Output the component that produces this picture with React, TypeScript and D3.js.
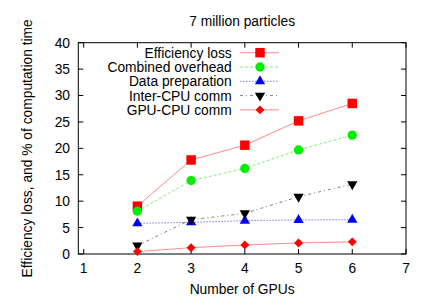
import React from "react";
import * as d3 from "d3";

// values
const gpus = [2, 3, 4, 5, 6];
const efficiencyLoss = [9.05, 17.8, 20.6, 25.2, 28.5];
const combinedOverhead = [8.1, 13.9, 16.2, 19.7, 22.5];
const dataPreparation = [5.8, 6.0, 6.3, 6.45, 6.5];
const interCpuComm = [1.6, 6.5, 7.7, 10.85, 13.2];
const gpuCpuComm = [0.45, 1.2, 1.7, 2.1, 2.3];

const xTicks = [1, 2, 3, 4, 5, 6, 7];
const yTicks = [0, 5, 10, 15, 20, 25, 30, 35, 40];

const title = "7 million particles";
const xLabel = "Number of GPUs";
const yLabel = "Efficiency loss, and % of computation time";

const W = 428;
const H = 300;
const FONT = "'Liberation Sans', Arial, sans-serif";

const series = [
  { name: "Efficiency loss", values: efficiencyLoss, color: "#ff0000", line: "#ff8a8a", dash: null, symbol: d3.symbolSquare, size: 90, rotate: 0 },
  { name: "Combined overhead", values: combinedOverhead, color: "#00ee00", line: "#7cf07c", dash: "3,2", symbol: d3.symbolCircle, size: 68, rotate: 0 },
  { name: "Data preparation", values: dataPreparation, color: "#0000ff", line: "#7a7aff", dash: "1.5,1.5", symbol: d3.symbolTriangle, size: 46, rotate: 0 },
  { name: "Inter-CPU comm", values: interCpuComm, color: "#000000", line: "#808080", dash: "3,3,1,3", symbol: d3.symbolTriangle, size: 46, rotate: 180 },
  { name: "GPU-CPU comm", values: gpuCpuComm, color: "#ff0000", line: "#ff8a8a", dash: null, symbol: d3.symbolSquare, size: 40, rotate: 45 },
];

export default function App() {
  const left = 78.3;
  const right = 406;
  const top = 42.7;
  const bottom = 254;

  const x = d3.scaleLinear().domain([0.9, 7]).range([left, right]);
  const y = d3.scaleLinear().domain([0, 40]).range([bottom, top]);

  const line = d3
    .line<number>()
    .x((d, i) => x(gpus[i]))
    .y((d) => y(d));

  const tickLen = 5;

  // legend placement
  const legTextX = 231.7;
  const legLine0 = 240;
  const legLine1 = 279;
  const legMark = 260;
  const legY0 = 52.7;
  const legStep = 14.3;

  return (
    <svg
      width={W}
      height={H}
      style={{ position: "absolute", left: 0, top: 0, background: "#fff" }}
      fontFamily={FONT}
      fontSize={13.8}
    >
      <rect width={W} height={H} fill="#fff" />

      {/* ticks */}
      {xTicks.map((t) => (
        <g key={"xt" + t} stroke="#000" strokeWidth={1}>
          <line x1={x(t)} x2={x(t)} y1={bottom} y2={bottom - tickLen} />
          <line x1={x(t)} x2={x(t)} y1={top} y2={top + tickLen} />
        </g>
      ))}
      {yTicks.map((t) => (
        <g key={"yt" + t} stroke="#000" strokeWidth={1}>
          <line x1={left} x2={left + tickLen} y1={y(t)} y2={y(t)} />
          <line x1={right} x2={right - tickLen} y1={y(t)} y2={y(t)} />
        </g>
      ))}

      {/* frame */}
      <rect x={left} y={top} width={right - left} height={bottom - top} fill="none" stroke="#000" strokeWidth={1} />

      {/* tick labels */}
      {xTicks.map((t) => (
        <text key={"xl" + t} x={x(t)} y={273} textAnchor="middle">
          {t}
        </text>
      ))}
      {yTicks.map((t) => (
        <text key={"yl" + t} x={70} y={y(t)} dy="0.36em" textAnchor="end">
          {t}
        </text>
      ))}

      {/* series */}
      {series.map((s) => (
        <g key={s.name}>
          <path
            d={line(s.values) || ""}
            fill="none"
            stroke={s.line}
            strokeWidth={1}
            strokeDasharray={s.dash || undefined}
          />
          {s.values.map((v, i) => (
            <path
              key={i}
              d={d3.symbol().type(s.symbol).size(s.size)() || ""}
              transform={`translate(${x(gpus[i])},${y(v)}) rotate(${s.rotate})`}
              fill={s.color}
            />
          ))}
        </g>
      ))}

      {/* legend */}
      {series.map((s, i) => {
        const ly = legY0 + i * legStep;
        return (
          <g key={"leg" + s.name}>
            <text x={legTextX} y={ly} dy="0.36em" textAnchor="end">
              {s.name}
            </text>
            <line
              x1={legLine0}
              x2={legLine1}
              y1={ly}
              y2={ly}
              stroke={s.line}
              strokeWidth={1}
              strokeDasharray={s.dash || undefined}
            />
            <path
              d={d3.symbol().type(s.symbol).size(s.size)() || ""}
              transform={`translate(${legMark},${ly}) rotate(${s.rotate})`}
              fill={s.color}
            />
          </g>
        );
      })}

      {/* titles */}
      <text x={(left + right) / 2} y={26} textAnchor="middle">
        {title}
      </text>
      <text x={(left + right) / 2} y={293.5} textAnchor="middle">
        {xLabel}
      </text>
      <text transform={`translate(32,${(top + bottom) / 2}) rotate(-90)`} textAnchor="middle">
        {yLabel}
      </text>
    </svg>
  );
}
